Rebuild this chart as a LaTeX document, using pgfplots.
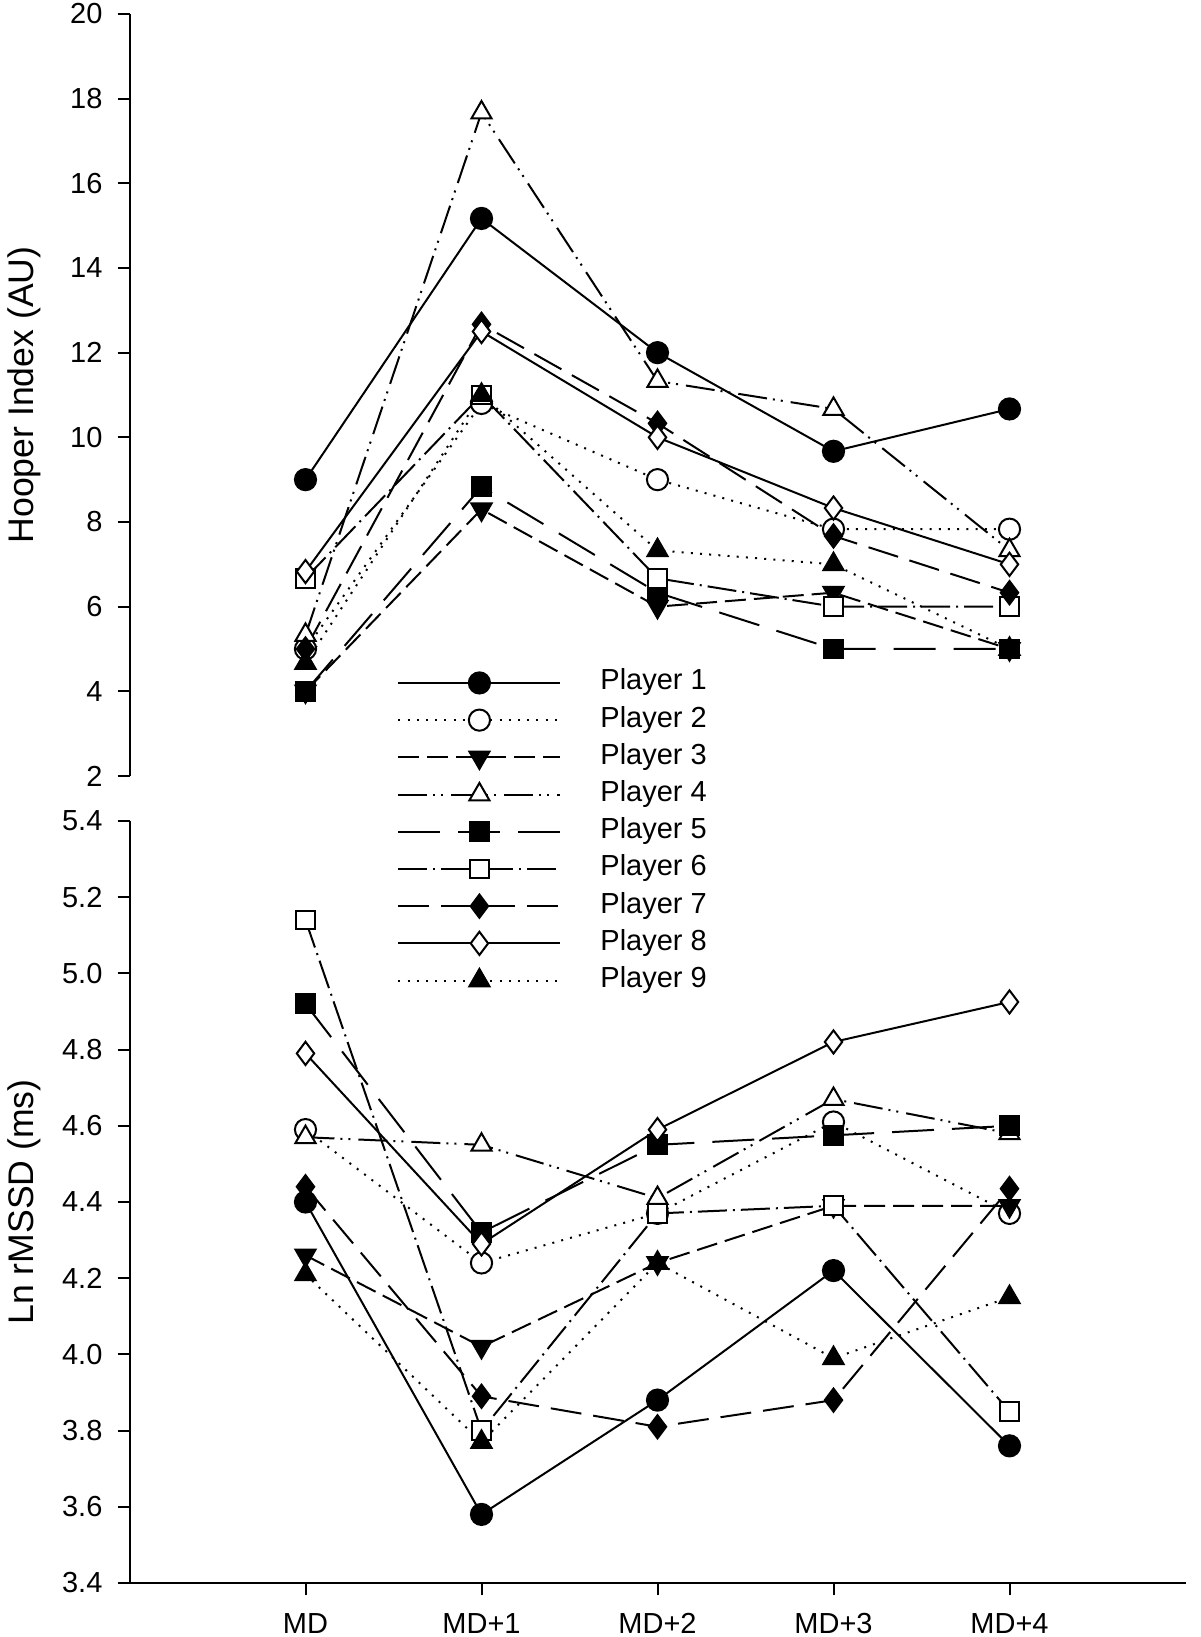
\documentclass[border=0pt]{standalone}
\usepackage{fontspec}
\setmainfont{Liberation Sans}
\usepackage{pgfplots}
\pgfplotsset{compat=1.18}
\begin{document}
\begin{tikzpicture}
\path[use as bounding box] (0,0) rectangle (600pt,818.5pt);
\pgfplotsset{
  myaxis/.style={
    scale only axis, width=528pt, height=381pt, anchor=south west,
    xmin=-1, xmax=5,
    axis line style={line width=1pt, -},
    tick style={line width=1pt, black},
    tick align=outside, major tick length=6pt,
    ticklabel style={font=\fontsize{14.5}{14.5}\selectfont},
    yticklabel style={xshift=-4pt},
    xticklabel style={yshift=-5.5pt},
    /pgf/number format/assume math mode=true,
    every axis y label/.style={at={(axis description cs:-0.1,0.5)}, rotate=90, anchor=center,
      font=\fontsize{17.8}{17.8}\selectfont},
    clip=false,
  },
  p1/.style={black, line width=1pt, solid, mark=*, mark size=5.3pt, mark options={solid}},
  p2/.style={black, line width=1pt, dash pattern=on 1pt off 3.6pt, mark=*, mark size=5.3pt, mark options={solid, fill=white}},
  p3/.style={black, line width=1pt, dash pattern=on 10.5pt off 4pt, mark=triangle*, mark size=5.8pt, mark options={solid, rotate=180}},
  p4/.style={black, line width=1pt, dash pattern=on 14.5pt off 3pt on 1pt off 3pt on 1pt off 4pt, mark=triangle*, mark size=5.8pt, mark options={solid, fill=white}},
  p5/.style={black, line width=1pt, dash pattern=on 21pt off 9pt, mark=square*, mark size=4.7pt, mark options={solid}},
  p6/.style={black, line width=1pt, dash pattern=on 14.5pt off 3pt on 1pt off 3pt, mark=square*, mark size=4.7pt, mark options={solid, fill=white}},
  p7/.style={black, line width=1pt, dash pattern=on 15.5pt off 6pt, mark=diamond*, mark size=5.8pt, mark options={solid}},
  p8/.style={black, line width=1pt, solid, mark=diamond*, mark size=5.8pt, mark options={solid, fill=white}},
  p9/.style={black, line width=1pt, dash pattern=on 1pt off 3.6pt, mark=triangle*, mark size=5.8pt, mark options={solid}},
}
% ---------- top panel: Hooper Index ----------
\begin{axis}[myaxis, at={(64.75pt,430.5pt)},
  axis x line=none, axis y line*=left,
  ymin=2, ymax=20, ytick={2,4,...,20},
  ylabel={Hooper Index (AU)},
  legend image code/.code={\draw[mark repeat=2,mark phase=2] plot coordinates {(0pt,0pt)(40.5pt,0pt)(81pt,0pt)};},
  legend style={draw=none, fill=none, at={(axis cs:0.52,4.68)}, anchor=north west, yshift=-3.5pt,
    inner sep=0pt, row sep=5.6pt,
    font=\fontsize{14.5}{14.5}\selectfont,
    nodes={inner sep=0pt, text height=10pt, text depth=3pt}},
  legend cell align=left,
  /tikz/every odd column/.append style={column sep=19.5pt},
]
\addplot[p1] coordinates {(0,9.0) (1,15.17) (2,12.0) (3,9.67) (4,10.67)};
\addplot[p2] coordinates {(0,5.0) (1,10.8) (2,9.0) (3,7.83) (4,7.83)};
\addplot[p3] coordinates {(0,4.0) (1,8.3) (2,6.0) (3,6.33) (4,5.0)};
\addplot[p4] coordinates {(0,5.33) (1,17.67) (2,11.33) (3,10.67) (4,7.33)};
\addplot[p5] coordinates {(0,4.0) (1,8.83) (2,6.33) (3,5.0) (4,5.0)};
\addplot[p6] coordinates {(0,6.67) (1,11.0) (2,6.67) (3,6.0) (4,6.0)};
\addplot[p7] coordinates {(0,5.0) (1,12.67) (2,10.33) (3,7.67) (4,6.33)};
\addplot[p8] coordinates {(0,6.83) (1,12.5) (2,10.0) (3,8.33) (4,7.0)};
\addplot[p9] coordinates {(0,4.67) (1,11.0) (2,7.33) (3,7.0) (4,5.0)};
\legend{Player 1,Player 2,Player 3,Player 4,Player 5,Player 6,Player 7,Player 8,Player 9}
\end{axis}
% ---------- bottom panel: Ln rMSSD ----------
\begin{axis}[myaxis, at={(64.75pt,27pt)},
  axis x line*=bottom, axis y line*=left,
  ymin=3.4, ymax=5.4,
  ytick={3.4,3.6,3.8,4.0,4.2,4.4,4.6,4.8,5.0,5.2,5.4},
  yticklabel style={/pgf/number format/.cd, fixed, fixed zerofill, precision=1},
  xtick={0,1,2,3,4}, xticklabels={MD,MD+1,MD+2,MD+3,MD+4},
  ylabel={Ln rMSSD (ms)},
]
\addplot[p1] coordinates {(0,4.40) (1,3.58) (2,3.88) (3,4.22) (4,3.76)};
\addplot[p2] coordinates {(0,4.59) (1,4.24) (2,4.37) (3,4.61) (4,4.37)};
\addplot[p3] coordinates {(0,4.26) (1,4.02) (2,4.24) (3,4.39) (4,4.39)};
\addplot[p4] coordinates {(0,4.57) (1,4.55) (2,4.41) (3,4.67) (4,4.58)};
\addplot[p5] coordinates {(0,4.92) (1,4.32) (2,4.55) (3,4.575) (4,4.60)};
\addplot[p6] coordinates {(0,5.14) (1,3.80) (2,4.37) (3,4.39) (4,3.85)};
\addplot[p7] coordinates {(0,4.44) (1,3.89) (2,3.81) (3,3.88) (4,4.435)};
\addplot[p8] coordinates {(0,4.79) (1,4.29) (2,4.59) (3,4.82) (4,4.925)};
\addplot[p9] coordinates {(0,4.21) (1,3.77) (2,4.24) (3,3.99) (4,4.15)};
\end{axis}
\end{tikzpicture}
\end{document}
